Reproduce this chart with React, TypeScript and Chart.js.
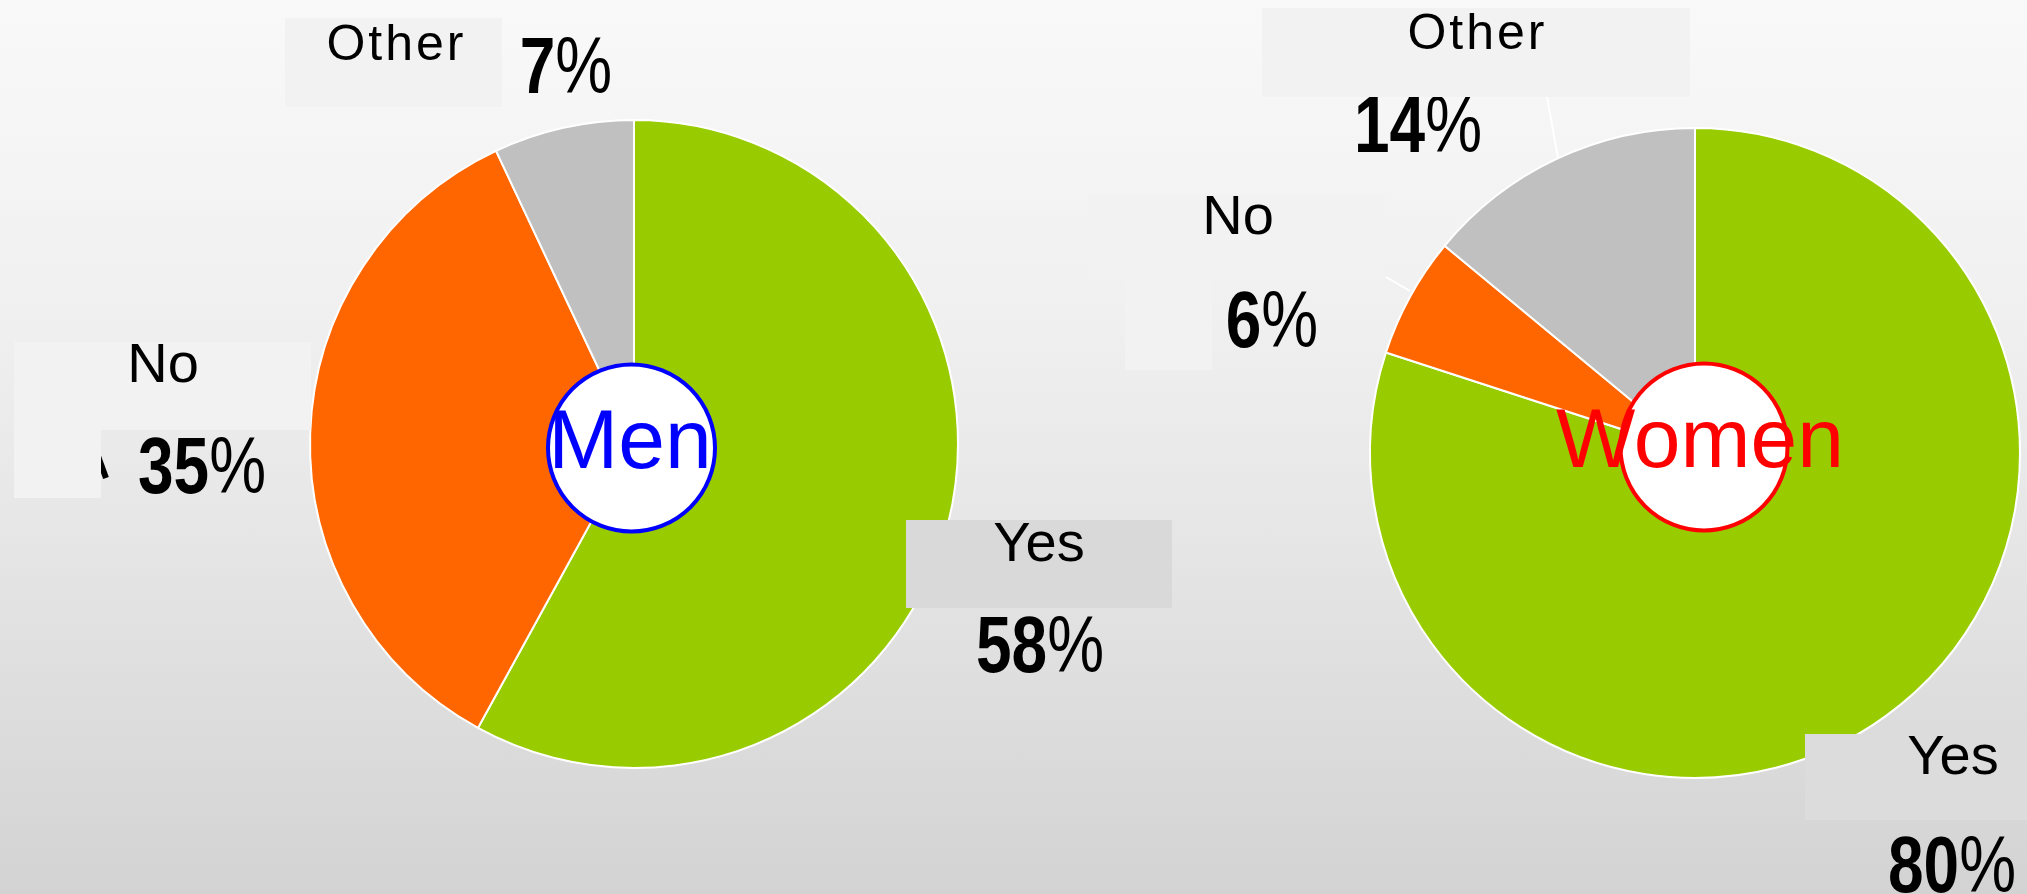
import React, { useEffect, useRef } from 'react';
import { Chart, registerables } from 'chart.js';

Chart.register(...registerables);

// ---- data ----
const categories = ['Yes', 'No', 'Other'];
const menValues = [58, 35, 7];
const womenValues = [80, 6, 14];
const sliceColors = ['#99CC00', '#FF6600', '#C0C0C0'];
const groupTitles = ['Men', 'Women'];

// ---- layout / style ----
const W = 2027;
const H = 894;
const FONT = '"Liberation Sans", Arial, Helvetica, sans-serif';

type LabelLayout = {
  boxes: number[][];
  boxColor: string;
  nameX: number;
  nameY: number;
  nameSize: number;
  nameSpacing: number;
  pctX: number;
  pctY: number;
  leader?: number[];
};

type GroupLayout = {
  padding: { left: number; right: number; top: number; bottom: number };
  radius: number;
  circle: { x: number; y: number; r: number; color: string };
  titleX: number;
  titleY: number;
  labels: LabelLayout[];
  artifact?: number[];
};

const menLayout: GroupLayout = {
  padding: { left: 284, right: W - 984, top: 94, bottom: H - 794 },
  radius: 324,
  circle: { x: 631.5, y: 448, r: 83.5, color: '#0000FF' },
  titleX: 630,
  titleY: 468,
  artifact: [95, 448, 106, 478],
  labels: [
    { boxes: [[906, 520, 266, 88]], boxColor: '#D9D9D9', nameX: 1039, nameY: 561, nameSize: 56, nameSpacing: 0, pctX: 1040, pctY: 672 },
    { boxes: [[14, 342, 297, 88], [14, 430, 87, 68]], boxColor: '#F2F2F2', nameX: 163, nameY: 382, nameSize: 56, nameSpacing: 0, pctX: 202, pctY: 493 },
    { boxes: [[285, 18, 217, 89]], boxColor: '#F2F2F2', nameX: 395, nameY: 60, nameSize: 50, nameSpacing: 3, pctX: 566, pctY: 93 },
  ],
};

const womenLayout: GroupLayout = {
  padding: { left: 1365, right: W - 2025, top: 123, bottom: H - 783 },
  radius: 325,
  circle: { x: 1704, y: 447, r: 83.5, color: '#FF0000' },
  titleX: 1700,
  titleY: 467,
  labels: [
    { boxes: [[1805, 734, 222, 86]], boxColor: '#DCDCDC', nameX: 1953, nameY: 774, nameSize: 56, nameSpacing: 0, pctX: 1952, pctY: 892 },
    { boxes: [[1088, 194, 297, 86], [1125, 280, 87, 90]], boxColor: '#F2F2F2', nameX: 1238, nameY: 234, nameSize: 56, nameSpacing: 0, pctX: 1272, pctY: 347, leader: [1386, 277, 1410, 291] },
    { boxes: [[1262, 8, 428, 89]], boxColor: '#F2F2F2', nameX: 1476, nameY: 49, nameSize: 50, nameSpacing: 3, pctX: 1418, pctY: 152, leader: [1547, 97, 1558, 158] },
  ],
};

function drawPct(ctx: CanvasRenderingContext2D, value: number, cx: number, baseline: number) {
  const num = String(value);
  const sx = 0.8;
  const boldFont = `bold 80px ${FONT}`;
  const normFont = `80px ${FONT}`;
  ctx.font = boldFont;
  const wNum = ctx.measureText(num).width;
  ctx.font = normFont;
  const wPct = ctx.measureText('%').width;
  const total = (wNum + wPct) * sx;
  ctx.save();
  ctx.translate(cx - total / 2, baseline);
  ctx.scale(sx, 1);
  ctx.textAlign = 'left';
  ctx.textBaseline = 'alphabetic';
  ctx.fillStyle = '#000000';
  ctx.font = boldFont;
  ctx.fillText(num, 0, 0);
  ctx.font = normFont;
  ctx.fillText('%', wNum, 0);
  ctx.restore();
}

function makeOverlay(layout: GroupLayout, values: number[], title: string) {
  return {
    id: 'overlay' + title,
    afterDraw(chart: Chart) {
      const ctx = chart.ctx;
      ctx.save();
      // percentages
      layout.labels.forEach((lab, i) => drawPct(ctx, values[i], lab.pctX, lab.pctY));
      // stray glyph fragment
      if (layout.artifact) {
        const [x1, y1, x2, y2] = layout.artifact;
        ctx.strokeStyle = '#000000';
        ctx.lineWidth = 6;
        ctx.beginPath();
        ctx.moveTo(x1, y1);
        ctx.lineTo(x2, y2);
        ctx.stroke();
      }
      // label boxes
      layout.labels.forEach((lab) => {
        ctx.fillStyle = lab.boxColor;
        lab.boxes.forEach(([x, y, w, h]) => ctx.fillRect(x, y, w, h));
      });
      // leader lines
      layout.labels.forEach((lab) => {
        if (!lab.leader) return;
        const [x1, y1, x2, y2] = lab.leader;
        ctx.strokeStyle = '#FFFFFF';
        ctx.lineWidth = 2;
        ctx.beginPath();
        ctx.moveTo(x1, y1);
        ctx.lineTo(x2, y2);
        ctx.stroke();
      });
      // category names
      layout.labels.forEach((lab, i) => {
        ctx.font = `${lab.nameSize}px ${FONT}`;
        (ctx as any).letterSpacing = `${lab.nameSpacing}px`;
        ctx.fillStyle = '#000000';
        ctx.textAlign = 'center';
        ctx.textBaseline = 'alphabetic';
        ctx.fillText(categories[i], lab.nameX + lab.nameSpacing / 2, lab.nameY);
        (ctx as any).letterSpacing = '0px';
      });
      // centre circle + title
      const c = layout.circle;
      ctx.beginPath();
      ctx.arc(c.x, c.y, c.r, 0, Math.PI * 2);
      ctx.fillStyle = '#FFFFFF';
      ctx.fill();
      ctx.lineWidth = 4;
      ctx.strokeStyle = c.color;
      ctx.stroke();
      ctx.font = `84px ${FONT}`;
      ctx.fillStyle = c.color;
      ctx.textAlign = 'center';
      ctx.textBaseline = 'alphabetic';
      ctx.fillText(title, layout.titleX, layout.titleY);
      ctx.restore();
    },
  };
}

function makeChart(canvas: HTMLCanvasElement, values: number[], layout: GroupLayout, title: string) {
  return new Chart(canvas, {
    type: 'pie',
    data: {
      labels: categories,
      datasets: [
        {
          data: values,
          backgroundColor: sliceColors,
          borderColor: '#FFFFFF',
          borderWidth: 2,
          radius: layout.radius,
        } as any,
      ],
    },
    options: {
      responsive: false,
      maintainAspectRatio: false,
      animation: false,
      devicePixelRatio: 1,
      events: [],
      layout: { padding: layout.padding },
      plugins: {
        legend: { display: false },
        tooltip: { enabled: false },
      },
    },
    plugins: [makeOverlay(layout, values, title)],
  });
}

export default function App() {
  const menRef = useRef<HTMLCanvasElement>(null);
  const womenRef = useRef<HTMLCanvasElement>(null);

  useEffect(() => {
    document.body.style.margin = '0';
    const charts = [
      makeChart(menRef.current!, menValues, menLayout, groupTitles[0]),
      makeChart(womenRef.current!, womenValues, womenLayout, groupTitles[1]),
    ];
    return () => charts.forEach((c) => c.destroy());
  }, []);

  const canvasStyle: React.CSSProperties = { position: 'absolute', left: 0, top: 0, width: W, height: H };
  return (
    <div
      style={{
        position: 'fixed',
        left: 0,
        top: 0,
        width: W,
        height: H,
        overflow: 'hidden',
        background: 'linear-gradient(to bottom, #F9F9F9 0%, #F0F0F0 35%, #E6E6E6 60%, #D3D3D3 100%)',
      }}
    >
      <canvas ref={menRef} width={W} height={H} style={canvasStyle} />
      <canvas ref={womenRef} width={W} height={H} style={canvasStyle} />
    </div>
  );
}
